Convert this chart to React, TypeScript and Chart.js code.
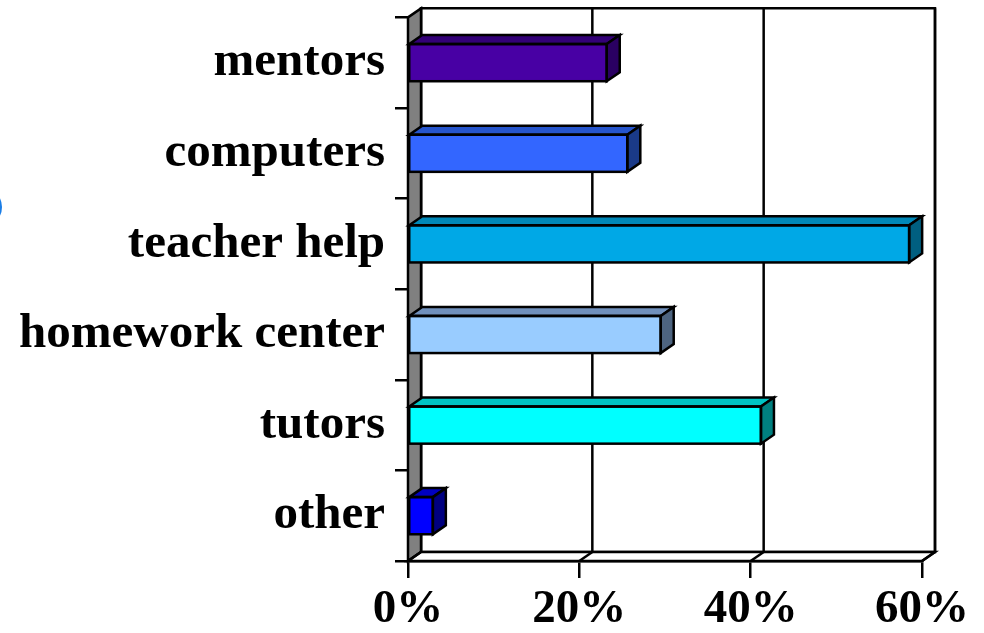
import React, { useEffect, useRef } from "react";
import { Chart, registerables } from "chart.js";

Chart.register(...registerables);

const categories = ["mentors", "computers", "teacher help", "homework center", "tutors", "other"];
const values = [23.2, 25.6, 58.5, 29.5, 41.2, 2.9];
const xTicks = [0, 20, 40, 60];

const frontColors = ["#4800A4", "#3366FF", "#00A8E6", "#99CCFF", "#00FFFF", "#0000FF"];
const topColors = ["#330077", "#2655CC", "#0088B8", "#7090BC", "#00C4C4", "#0000C0"];
const sideColors = ["#2A0062", "#1A3A88", "#005F80", "#4D6480", "#008080", "#000080"];

const DX = 13;
const DY = -9;
const LW = 2.5;
const FONT = "'Liberation Serif', 'Times New Roman', serif";

const threeD = {
  id: "threeD",
  beforeDatasetsDraw(chart: any) {
    const { ctx, chartArea } = chart;
    const xs = chart.scales.x;
    const L = chartArea.left, R = chartArea.right, T = chartArea.top, B = chartArea.bottom;
    ctx.save();
    ctx.lineWidth = LW;
    ctx.strokeStyle = "#000";
    ctx.lineJoin = "miter";
    ctx.fillStyle = "#fff";
    ctx.beginPath();
    ctx.rect(L + DX, T + DY, R - L, B - T);
    ctx.fill();
    ctx.stroke();
    xTicks.forEach((t) => {
      const px = xs.getPixelForValue(t) + DX;
      ctx.beginPath();
      ctx.moveTo(px, T + DY);
      ctx.lineTo(px, B + DY);
      ctx.stroke();
    });
    ctx.fillStyle = "#808080";
    ctx.beginPath();
    ctx.moveTo(L, T);
    ctx.lineTo(L + DX, T + DY);
    ctx.lineTo(L + DX, B + DY);
    ctx.lineTo(L, B);
    ctx.closePath();
    ctx.fill();
    ctx.stroke();
    ctx.fillStyle = "#fff";
    ctx.beginPath();
    ctx.moveTo(L, B);
    ctx.lineTo(L + DX, B + DY);
    ctx.lineTo(R + DX, B + DY);
    ctx.lineTo(R, B);
    ctx.closePath();
    ctx.fill();
    ctx.stroke();
    xTicks.forEach((t) => {
      const px = xs.getPixelForValue(t);
      ctx.beginPath();
      ctx.moveTo(px, B);
      ctx.lineTo(px + DX, B + DY);
      ctx.stroke();
    });
    ctx.restore();
  },
  afterDatasetsDraw(chart: any) {
    const { ctx } = chart;
    const meta = chart.getDatasetMeta(0);
    ctx.save();
    ctx.lineWidth = LW;
    ctx.strokeStyle = "#000";
    ctx.lineJoin = "miter";
    meta.data.forEach((el: any, i: number) => {
      const p = el.getProps(["x", "y", "base", "height"], true);
      const top = p.y - p.height / 2;
      const bot = p.y + p.height / 2;
      ctx.fillStyle = topColors[i];
      ctx.beginPath();
      ctx.moveTo(p.base, top);
      ctx.lineTo(p.base + DX, top + DY);
      ctx.lineTo(p.x + DX, top + DY);
      ctx.lineTo(p.x, top);
      ctx.closePath();
      ctx.fill();
      ctx.stroke();
      ctx.fillStyle = sideColors[i];
      ctx.beginPath();
      ctx.moveTo(p.x, top);
      ctx.lineTo(p.x + DX, top + DY);
      ctx.lineTo(p.x + DX, bot + DY);
      ctx.lineTo(p.x, bot);
      ctx.closePath();
      ctx.fill();
      ctx.stroke();
      ctx.strokeRect(p.base, top, p.x - p.base, bot - top);
    });
    ctx.restore();
  },
};

export default function App() {
  const ref = useRef<HTMLCanvasElement | null>(null);
  useEffect(() => {
    if (!ref.current) return;
    const chart = new Chart(ref.current, {
      type: "bar",
      data: {
        labels: categories,
        datasets: [
          {
            data: values,
            backgroundColor: frontColors,
            borderColor: "#000",
            borderWidth: 0,
            borderSkipped: false,
            barPercentage: 0.41,
            categoryPercentage: 1,
          },
        ],
      },
      options: {
        indexAxis: "y",
        animation: false,
        responsive: true,
        maintainAspectRatio: false,
        layout: { padding: { left: 0, top: 10, right: 62, bottom: 0 } },
        plugins: { legend: { display: false }, tooltip: { enabled: false } },
        scales: {
          x: {
            min: 0,
            max: 60,
            afterFit: (s: any) => {
              s.height = 72;
            },
            afterBuildTicks: (s: any) => {
              s.ticks = xTicks.map((v) => ({ value: v }));
            },
            grid: {
              drawOnChartArea: false,
              drawTicks: true,
              tickLength: 17,
              color: "#000",
              lineWidth: LW,
            },
            border: { display: true, color: "#000", width: LW },
            ticks: {
              color: "#000",
              padding: 4,
              maxRotation: 0,
              font: { family: FONT, size: 47, weight: "bold" },
              callback: (v: any) => v + "%",
            },
          },
          y: {
            afterFit: (s: any) => {
              s.width = 408;
            },
            grid: {
              drawOnChartArea: false,
              drawTicks: true,
              tickLength: 13,
              color: "#000",
              lineWidth: LW,
              offset: true,
            },
            border: { display: true, color: "#000", width: LW },
            ticks: {
              color: "#000",
              padding: 10,
              font: { family: FONT, size: 49, weight: "bold", lineHeight: 0.3 },
            },
          },
        },
      },
      plugins: [threeD],
    });
    return () => chart.destroy();
  }, []);
  return (
    <div
      style={{
        position: "fixed",
        left: 0,
        top: 0,
        width: 984,
        height: 633,
        overflow: "hidden",
        background: "#fff",
      }}
    >
      <canvas ref={ref} />
      <div
        style={{
          position: "absolute",
          left: -38,
          top: 187,
          width: 40,
          height: 40,
          boxSizing: "border-box",
          border: "3px solid #1a7de6",
          borderRadius: "50%",
        }}
      />
    </div>
  );
}
